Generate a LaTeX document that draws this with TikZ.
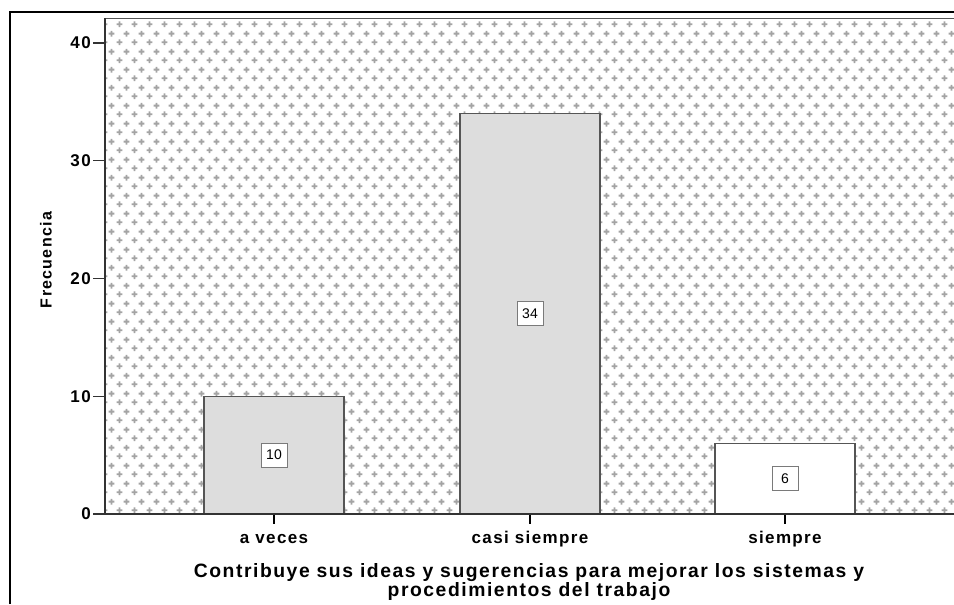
\documentclass[tikz,border=0pt]{standalone}
\usepackage{fontspec}
\setmainfont{Liberation Sans}
\newfontfamily\spssfont[LetterSpace=8]{Liberation Sans}
\usetikzlibrary{patterns}

\definecolor{barfill}{HTML}{DDDDDD}
\definecolor{barline}{HTML}{555555}
\definecolor{dotgray}{HTML}{A4A4A4}
\definecolor{boxline}{HTML}{7A7A7A}

% small crosses in a staggered grid, as in the chart background
\pgfdeclarepatternformonly{spssdots}{\pgfqpoint{0pt}{0pt}}{\pgfqpoint{10.875pt}{13.5pt}}{\pgfqpoint{10.875pt}{13.5pt}}{%
  \pgfpathrectangle{\pgfqpoint{0.45pt}{2.25pt}}{\pgfqpoint{4.5pt}{1.5pt}}
  \pgfpathrectangle{\pgfqpoint{1.95pt}{0.75pt}}{\pgfqpoint{1.5pt}{4.5pt}}
  \pgfpathrectangle{\pgfqpoint{5.8875pt}{9pt}}{\pgfqpoint{4.5pt}{1.5pt}}
  \pgfpathrectangle{\pgfqpoint{7.3875pt}{7.5pt}}{\pgfqpoint{1.5pt}{4.5pt}}
  \pgfusepath{fill}}

\tikzset{
  bar/.style={draw=barline, line width=0.9pt},
  ticklbl/.style={font=\spssfont\bfseries\fontsize{12.75}{15}\selectfont, inner sep=0pt},
  titlelbl/.style={font=\spssfont\bfseries\fontsize{14.5}{16}\selectfont, inner sep=0pt, anchor=base},
  vallbl/.style={draw=boxline, fill=white, line width=0.75pt, font=\fontsize{10.5}{12}\selectfont,
    minimum width=19.5pt, minimum height=18pt, inner sep=0pt},
}

\begin{document}
\begin{tikzpicture}[x=0.75pt,y=-0.75pt]
  \useasboundingbox (0,0) rectangle (954,604);
  \fill[white] (0,0) rectangle (954,604);

  % plot area
  \fill[pattern=spssdots, pattern color=dotgray] (105,18) rectangle (954,514);
  \draw[barline, line width=0.75pt] (105,18) -- (954,18);

  % bars with value labels
  \foreach \cx/\val/\fc/\nm in {274/10/barfill/aveces, 530/34/barfill/casi, 785/6/white/siempre}{
    \draw[bar, fill=\fc] (\cx-70,514) rectangle (\cx+70,{514-11.775*\val});
    \node[vallbl] (val\nm) at (\cx,{514-11.775*\val/2}) {\val};
    \draw[black, line width=0.9pt] (\cx,514) -- (\cx,524);
  }

  % axes
  \draw[black!80, line width=1pt] (105,18) -- (105,514);
  \draw[black!80, line width=1pt] (105,514) -- (954,514);
  \foreach \v in {0,10,20,30,40}{
    \draw[black!80, line width=0.9pt] (93,{514-11.775*\v}) -- (105,{514-11.775*\v});
    \node[ticklbl, anchor=east] (y\v) at (91,{514-11.775*\v}) {\v};
  }

  \node[ticklbl, anchor=base] (caveces) at (274,543) {a veces};
  \node[ticklbl, anchor=base] (ccasi) at (530,543) {casi siempre};
  \node[ticklbl, anchor=base] (csiempre) at (785,543) {siempre};

  \node[titlelbl] (title1) at (529,577) {Contribuye sus ideas y sugerencias para mejorar los sistemas y};
  \node[titlelbl] (title2) at (529,596) {procedimientos del trabajo};
  \node[ticklbl, anchor=base, rotate=90, font=\spssfont\bfseries\fontsize{12}{14}\selectfont] (ytitle) at (51.5,260) {Frecuencia};

  % outer frame
  \draw[black, line width=1.5pt] (10,604) -- (10,12) -- (954,12);
\end{tikzpicture}
\end{document}
